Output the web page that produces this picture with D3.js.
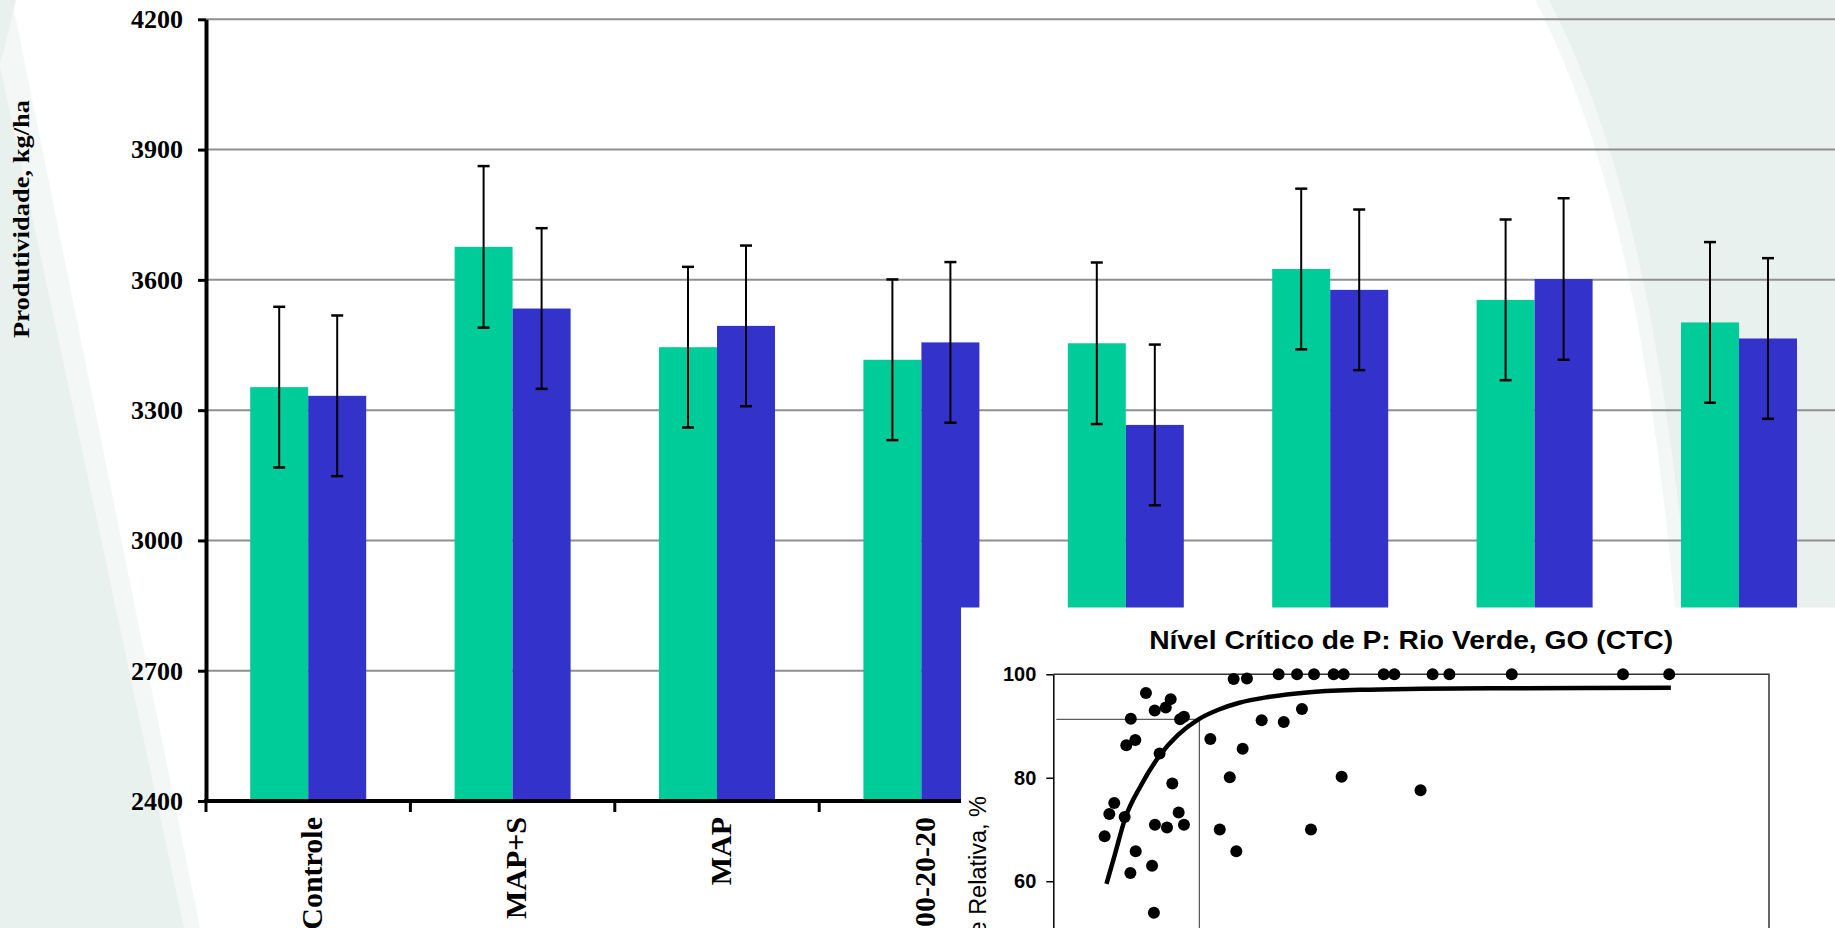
<!DOCTYPE html>
<html>
<head>
<meta charset="utf-8">
<script src="https://cdn.jsdelivr.net/npm/d3@7"></script>
<style>
  body { margin: 0; background: #fff; overflow: hidden; }
</style>
</head>
<body>
<svg id="chart" width="1835" height="928"></svg>
<script>
// main bar chart data
var categories = ["Controle", "MAP+S", "MAP", "00-20-20", "SFT", "SFS", "Yoorin", "Arad"];
var seriesNames = ["A", "B"];
var seriesA = [3353, 3676, 3445, 3416, 3454, 3625, 3554, 3502];
var seriesB = [3333, 3534, 3494, 3456, 3266, 3577, 3602, 3465];
var errA = [185, 186, 185, 185, 186, 185, 185, 185];
var errB = [185, 185, 185, 185, 185, 185, 186, 185];
var yTicks = [2400, 2700, 3000, 3300, 3600, 3900, 4200];

// inset scatter data (P level, relative yield %)
var scatterX = [4.53, 5.74, 4.96, 5.50, 3.79, 6.20, 6.39, 3.57, 4.01, 5.20, 5.82, 2.98, 2.74, 3.49, 2.51, 4.97,
  5.56, 6.13, 6.39, 4.03, 3.77, 4.83, 4.92, 7.68, 8.63, 9.26, 8.14, 8.95, 8.82, 9.47, 10.19, 11.27, 12.16,
  11.02, 11.92, 12.75, 13.71, 14.20, 14.10, 12.60, 16.16, 16.68, 17.96, 18.55, 19.37, 22.42, 27.86, 30.12];
var scatterY = [96.4, 95.2, 93.0, 93.6, 91.4, 91.3, 91.8, 86.3, 87.3, 84.7, 78.9, 75.1, 73.0, 72.4, 68.7, 70.9,
  70.4, 73.3, 70.9, 65.8, 61.6, 63.0, 53.9, 87.5, 80.1, 85.6, 70.0, 65.8, 99.1, 99.2, 91.1, 90.8, 93.3,
  100, 100, 100, 100, 100, 80.2, 70.0, 100, 100, 77.6, 100, 100, 100, 100, 100];
var fitX = [2.6, 3.0, 3.5, 4.3, 5.2, 6.1, 7.1, 8.1, 9.1, 10.5, 12.4, 15, 18, 22, 26, 30.2];
var fitY = [59.5, 65.0, 72.0, 78.6, 84.3, 88.3, 91.3, 93.2, 94.5, 95.6, 96.5, 97.0, 97.2, 97.3, 97.35, 97.4];
var criticalX = 7.14, criticalY = 91.3;
var insetTicks = [40, 60, 80, 100];

var svg = d3.select("#chart");

// slide background swooshes
svg.append("path")
    .attr("d", "M0,0 L12,0 L200,928 L0,928 Z")
    .attr("fill", "#f3f7f5");
svg.append("path")
    .attr("d", "M0,0 L16,0 L4,50 L0,62 Z M0,66 L184,928 L0,928 Z")
    .attr("fill", "#e8f1ed");
svg.append("path")
    .attr("d", "M1535,0 C1596,120 1646,280 1676,620 L1686,928 L1835,928 L1835,0 Z")
    .attr("fill", "#f3f7f5");
svg.append("path")
    .attr("d", "M1549,0 C1610,120 1660,280 1690,620 L1700,928 L1835,928 L1835,0 Z")
    .attr("fill", "#e8f1ed");

var plotLeft = 206, plotBottom = 801, plotTop = 19.3, step = 204.4;

var y = d3.scaleLinear()
    .domain([2400, 4200])
    .range([plotBottom, plotTop]);

var x0 = d3.scaleBand()
    .domain(categories)
    .range([plotLeft, plotLeft + step * categories.length]);

var x1 = d3.scaleBand()
    .domain(seriesNames)
    .range([0, x0.bandwidth()])
    .paddingInner(0)
    .paddingOuter(0.762);

var color = d3.scaleOrdinal()
    .domain(seriesNames)
    .range(["#00cc99", "#3333cc"]);

// gridlines
svg.append("g")
    .selectAll("line")
    .data(yTicks.slice(1))
    .enter()
    .append("line")
    .attr("x1", plotLeft)
    .attr("x2", 1835)
    .attr("y1", d => y(d))
    .attr("y2", d => y(d))
    .attr("stroke", "#8f8f8f")
    .attr("stroke-width", 2);

var rows = categories.map(function(c, i) {
    return [
        { cat: c, s: "A", v: seriesA[i], e: errA[i] },
        { cat: c, s: "B", v: seriesB[i], e: errB[i] }
    ];
});
var flat = d3.merge(rows);

var group = svg.append("g")
    .selectAll("g")
    .data(flat)
    .enter()
    .append("g")
    .attr("transform", d => "translate(" + (x0(d.cat) + x1(d.s)) + ",0)");

group.append("rect")
    .attr("x", 0)
    .attr("y", d => y(d.v))
    .attr("width", x1.bandwidth())
    .attr("height", d => plotBottom - y(d.v))
    .attr("fill", d => color(d.s));

var bw = x1.bandwidth();
group.append("line")
    .attr("x1", bw / 2).attr("x2", bw / 2)
    .attr("y1", d => y(d.v + d.e))
    .attr("y2", d => y(d.v - d.e))
    .attr("stroke", "#000").attr("stroke-width", 2);
group.append("line")
    .attr("x1", bw / 2 - 6).attr("x2", bw / 2 + 6)
    .attr("y1", d => y(d.v + d.e)).attr("y2", d => y(d.v + d.e))
    .attr("stroke", "#000").attr("stroke-width", 2.5);
group.append("line")
    .attr("x1", bw / 2 - 6).attr("x2", bw / 2 + 6)
    .attr("y1", d => y(d.v - d.e)).attr("y2", d => y(d.v - d.e))
    .attr("stroke", "#000").attr("stroke-width", 2.5);

// y axis
var yAxis = svg.append("g")
    .attr("transform", "translate(" + plotLeft + ",0)")
    .call(d3.axisLeft(y).tickValues(yTicks).tickFormat(d3.format("d"))
        .tickSize(8).tickSizeOuter(0).tickPadding(15));
yAxis.select(".domain").attr("stroke-width", 4);
yAxis.selectAll(".tick line").attr("stroke-width", 3);
yAxis.selectAll("text")
    .attr("font-family", "Liberation Serif, Times New Roman, serif")
    .attr("font-weight", "bold")
    .attr("font-size", 26)
    .attr("fill", "#000");

// x axis line + ticks
svg.append("line")
    .attr("x1", plotLeft - 2).attr("x2", 1835)
    .attr("y1", plotBottom).attr("y2", plotBottom)
    .attr("stroke", "#000").attr("stroke-width", 4);
svg.append("g")
    .selectAll("line")
    .data(d3.range(categories.length + 1))
    .enter()
    .append("line")
    .attr("x1", i => plotLeft + i * step).attr("x2", i => plotLeft + i * step)
    .attr("y1", plotBottom).attr("y2", plotBottom + 11)
    .attr("stroke", "#000").attr("stroke-width", 3);

svg.append("g")
    .selectAll("text")
    .data(categories)
    .enter()
    .append("text")
    .attr("transform", d => "translate(" + (x0(d) + x0.bandwidth() / 2 + 3) + ",817) rotate(-90)")
    .attr("text-anchor", "end")
    .attr("dy", "0.35em")
    .attr("font-family", "Liberation Serif, Times New Roman, serif")
    .attr("font-weight", "bold")
    .attr("font-size", 30)
    .text(d => d);

svg.append("text")
    .attr("transform", "translate(29,219) rotate(-90)")
    .attr("text-anchor", "middle")
    .attr("font-family", "Liberation Serif, Times New Roman, serif")
    .attr("font-weight", "bold")
    .attr("font-size", 24)
    .attr("textLength", 238)
    .attr("lengthAdjust", "spacingAndGlyphs")
    .text("Produtividade, kg/ha");

// inset chart
var inset = svg.append("g");
inset.append("rect")
    .attr("x", 961).attr("y", 607.5)
    .attr("width", 874).attr("height", 321)
    .attr("fill", "#fff");

var ix = d3.scaleLinear().domain([0, 35]).range([1053.3, 1769]);
var iy = d3.scaleLinear().domain([40, 100]).range([984.7, 674.3]);

inset.append("text")
    .attr("x", (ix.range()[0] + ix.range()[1]) / 2)
    .attr("y", 649)
    .attr("text-anchor", "middle")
    .attr("font-family", "Liberation Sans, Arial, sans-serif")
    .attr("font-weight", "bold")
    .attr("font-size", 26)
    .attr("textLength", 524)
    .attr("lengthAdjust", "spacingAndGlyphs")
    .text("Nível Crítico de P: Rio Verde, GO (CTC)");

inset.append("path")
    .attr("d", "M" + ix(0) + "," + iy(100) + "H" + ix(35) + "V930")
    .attr("fill", "none")
    .attr("stroke", "#333")
    .attr("stroke-width", 1.5);

var iAxis = inset.append("g")
    .attr("transform", "translate(" + ix(0) + ",0)")
    .call(d3.axisLeft(iy).tickValues(insetTicks).tickSize(7).tickSizeOuter(0).tickPadding(10));
iAxis.select(".domain").attr("stroke-width", 1.5);
iAxis.selectAll(".tick line").attr("stroke-width", 1.5);
iAxis.selectAll("text")
    .attr("font-family", "Liberation Sans, Arial, sans-serif")
    .attr("font-weight", "bold")
    .attr("font-size", 20)
    .attr("fill", "#000");

inset.append("text")
    .attr("transform", "translate(986,796) rotate(-90)")
    .attr("text-anchor", "end")
    .attr("font-family", "Liberation Sans, Arial, sans-serif")
    .attr("font-size", 23.5)
    .text("Produtividade Relativa, %");

// critical level guides
inset.append("path")
    .attr("d", "M" + (ix(0) + 3) + "," + iy(criticalY) + "H" + ix(criticalX) + "V930")
    .attr("fill", "none")
    .attr("stroke", "#333")
    .attr("stroke-width", 1);

var fitLine = d3.line()
    .x(d => ix(d[0]))
    .y(d => iy(d[1]))
    .curve(d3.curveMonotoneX);
inset.append("path")
    .datum(d3.zip(fitX, fitY))
    .attr("d", fitLine)
    .attr("fill", "none")
    .attr("stroke", "#000")
    .attr("stroke-width", 4.5);

inset.append("g")
    .selectAll("circle")
    .data(d3.zip(scatterX, scatterY))
    .enter()
    .append("circle")
    .attr("cx", d => ix(d[0]))
    .attr("cy", d => iy(d[1]))
    .attr("r", 6)
    .attr("fill", "#000");
</script>
</body>
</html>
